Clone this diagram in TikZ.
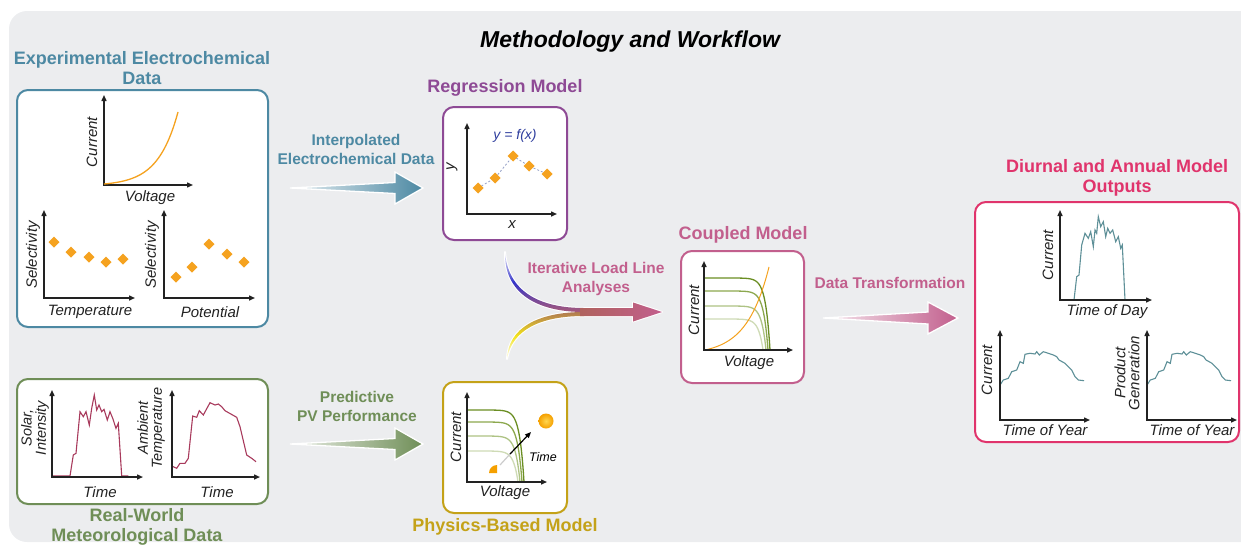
\documentclass[tikz,border=0pt]{standalone}
\usepackage{fontspec}
\setmainfont{Liberation Sans}
\usetikzlibrary{arrows.meta}
\definecolor{bgc}{HTML}{ECEDEF}
\definecolor{expc}{HTML}{4D89A3}
\definecolor{metc}{HTML}{6F8E57}
\definecolor{regc}{HTML}{8E4A95}
\definecolor{phyc}{HTML}{C4A218}
\definecolor{coupc}{HTML}{C25F8D}
\definecolor{outc}{HTML}{E0346C}
\definecolor{axc}{HTML}{222222}
\definecolor{dor}{HTML}{F5A21F}
\definecolor{crim}{HTML}{A83A5C}
\definecolor{tealc}{HTML}{5E9098}
\definecolor{fxc}{HTML}{2F3E9E}
\definecolor{gA}{HTML}{6B8E23}
\definecolor{gB}{HTML}{8CA84E}
\definecolor{gC}{HTML}{AEC384}
\definecolor{gD}{HTML}{CFDBB6}
\definecolor{ublue}{HTML}{3434C8}
\definecolor{upurp}{HTML}{A85A7A}
\definecolor{lyel}{HTML}{F2E21C}
\definecolor{lbrn}{HTML}{B07A52}
\definecolor{shaftc}{HTML}{B0625E}
\definecolor{dashc}{HTML}{96A2C8}
\definecolor{sunin}{HTML}{FFD650}
\definecolor{sunout}{HTML}{F5A000}
\newcommand\dmd[2]{\fill[dor] (#1,#2) +(-5.5,0) -- +(0,-5.5) -- +(5.5,0) -- +(0,5.5) -- cycle;}
% color, x0, y0, xend, ybottom
\newcommand\ivc[5]{\draw[#1, line width=1.3pt] plot[domain=0:{#4-#2}, samples=120, smooth] ({#2+\x},{#3+(#5-#3)*(exp((\x-(#4-#2))/4.5)-exp(-(#4-#2)/4.5))/(1-exp(-(#4-#2)/4.5))});}
\tikzset{
  ttl/.style={font=\bfseries\fontsize{18}{20.5}\selectfont, align=center, inner sep=0},
  lbl/.style={font=\bfseries\fontsize{15.5}{19}\selectfont, align=center, inner sep=0},
  axl/.style={font=\itshape\fontsize{15}{14}\selectfont, text=axc, inner sep=0, align=center},
  axs/.style={line width=1.4pt, draw=axc, {Triangle[length=6pt,width=5pt]}-{Triangle[length=6pt,width=5pt]}},
  box/.style={draw=#1, line width=2pt, fill=white, rounded corners=11pt, inner sep=0},
}
\begin{document}
\begin{tikzpicture}[x=1pt,y=-1pt]
\useasboundingbox (0,0) rectangle (1241,544);
\fill[bgc, rounded corners=18pt] (9,11) rectangle (1300,542);
\node[font=\bfseries\itshape\fontsize{23}{24}\selectfont] (title) at (630,42) {Methodology and Workflow};

% ---------- Experimental box ----------
\node[ttl, text=expc] (expT) at (142,68) {Experimental Electrochemical\\Data};
\node[box=expc, minimum width=251pt, minimum height=237pt] (exp) at (142.5,208.5) {};
\draw[axs] (104,95) -- (104,185) -- (193,185);
\draw[dor, line width=1.3pt] plot[domain=0:74, samples=50] ({104+\x},{184-72*(exp(0.05*\x)-1)/39.45});
\node[axl, rotate=90] (e1y) at (92,142) {Current};
\node[axl] (e1x) at (150,198) {Voltage};
\draw[axs] (44,210) -- (44,298) -- (135,298);
\dmd{54}{242}\dmd{71}{252}\dmd{89}{257}\dmd{106}{262}\dmd{123}{259}
\node[axl, rotate=90] (e2y) at (33,255) {Selectivity};
\node[axl] (e2x) at (90,312) {Temperature};
\draw[axs] (164,210) -- (164,298) -- (255,298);
\dmd{176}{277}\dmd{192}{267}\dmd{209}{244}\dmd{227}{254}\dmd{244}{262}
\node[axl, rotate=90] (e3y) at (152,255) {Selectivity};
\node[axl] (e3x) at (210,312) {Potential};

% ---------- Meteorological box ----------
\node[box=metc, minimum width=251pt, minimum height=125pt] (met) at (142.5,441.5) {};
\node[ttl, text=metc] (metT) at (137,527) {Real-World\\Meteorological Data};
\draw[crim, line width=1.1pt] (52,476) -- (70,476) -- (73.3,455) -- (76,453.3) -- (80,411.7) -- (83.3,416.7) -- (86,411.7) -- (89.3,425) -- (91.7,408.3) -- (94.3,395) -- (96.7,410) -- (99,405) -- (101.7,411.7) -- (104,409.3) -- (107.3,420) -- (110,411.7) -- (112.7,418.3) -- (116,428.3) -- (118.3,423.3) -- (121.7,476) -- (128.3,476);
\draw[crim, line width=1.1pt] (171.7,466) -- (176.7,468.3) -- (180,463.3) -- (185,463.3) -- (188.3,458.3) -- (192.7,416) -- (196.7,417.3) -- (199.3,410.7) -- (203.3,415) -- (210,402.7) -- (215,405) -- (218.3,404) -- (221.7,406.7) -- (225,410.7) -- (236.7,417.3) -- (240,426.7) -- (246.7,455) -- (251.7,458.3) -- (256,461.7);
\draw[axs] (52,390) -- (52,477) -- (143,477);
\draw[axs] (172,390) -- (172,477) -- (260,477);
\node[axl, rotate=90, font=\itshape\fontsize{14.5}{14}\selectfont] (m1y) at (35,428) {Solar,\\Intensity};
\node[axl, rotate=90, font=\itshape\fontsize{14.5}{14}\selectfont] (m2y) at (151,428) {Ambient\\Temperature};
\node[axl] (m1x) at (100,492) {Time};
\node[axl] (m2x) at (217,492) {Time};

% ---------- Regression box ----------
\node[ttl, text=regc] (regT) at (505,88) {Regression Model};
\node[box=regc, minimum width=124pt, minimum height=133pt] (reg) at (505,173.5) {};
\draw[axs] (467,123) -- (467,214) -- (557,214);
\draw[dashc, line width=0.8pt, dash pattern=on 2pt off 2pt] (478,188) -- (495,178) -- (513,156) -- (529,166) -- (547,174);
\dmd{478}{188}\dmd{495}{178}\dmd{513}{156}\dmd{529}{166}\dmd{547}{174}
\node[font=\itshape\fontsize{14}{14}\selectfont, text=fxc] (fx) at (515,136) {y = f(x)};
\node[axl, rotate=90] (ry) at (452,167) {y};
\node[axl] (rx) at (512,225) {x};

% ---------- Physics box ----------
\node[box=phyc, minimum width=124pt, minimum height=131pt] (phy) at (505,447.5) {};
\node[ttl, text=phyc] (phyT) at (505,527) {Physics-Based Model};
\ivc{gD}{467}{451}{518}{482}
\ivc{gC}{467}{436}{520}{482}
\ivc{gB}{467}{422}{522}{482}
\ivc{gA}{467}{410}{524}{482}
\draw[axs] (467,392) -- (467,482) -- (547,482);
\node[axl, rotate=90] (py) at (456,437) {Current};
\node[axl] (px) at (505,493) {Voltage};
\shade[inner color=sunin, outer color=sunout] (546,421) circle[radius=7.5];
\fill[sunout] (497,473) -- (489,473) arc[start angle=180, end angle=270, radius=8] -- cycle;
\draw[line width=1.2pt, draw=white!60!gray] (500,465) -- (511,453);
\draw[line width=1.2pt, -{Triangle[length=6pt,width=5pt]}] (510,454) -- (531,432);
\node[font=\itshape\fontsize{12.5}{12}\selectfont, inner sep=0] (ptime) at (543,457) {Time};

% ---------- Coupled box ----------
\node[ttl, text=coupc] (coupT) at (743,235) {Coupled Model};
\node[box=coupc, minimum width=123pt, minimum height=132pt] (coup) at (742.5,317) {};
\ivc{gD}{704}{319}{763}{350}
\ivc{gC}{704}{306}{766}{350}
\ivc{gB}{704}{291}{768}{350}
\ivc{gA}{704}{278}{770}{350}
\draw[dor, line width=1pt] plot[domain=0:64, samples=50] ({705+\x},{350-83*(exp(0.045*\x)-1)/16.81});
\draw[axs] (704,261) -- (704,350) -- (793,350);
\node[axl, rotate=90] (cy) at (694,310) {Current};
\node[axl] (cx) at (749,363) {Voltage};

% ---------- Output box ----------
\node[ttl, text=outc] (outT) at (1117,178) {Diurnal and Annual Model\\Outputs};
\node[box=outc, minimum width=264pt, minimum height=240pt] (out) at (1107,322) {};
\draw[tealc, line width=1.1pt] (1074,300) -- (1076.7,276.7) -- (1079,275) -- (1081.7,245) -- (1085,233.3) -- (1088.3,238.3) -- (1090.7,231.7) -- (1093.3,246.7) -- (1095,230) -- (1096.7,233.3) -- (1098.3,216.7) -- (1100.7,226.7) -- (1103.3,221.7) -- (1105.7,236.7) -- (1107.7,228.3) -- (1110,233.3) -- (1112.7,230) -- (1115.7,241.7) -- (1118.3,236.7) -- (1120.7,248.3) -- (1122.3,245) -- (1125,300);
\draw[axs] (1060,210) -- (1060,300) -- (1152,300);
\node[axl, rotate=90] (o1y) at (1048,255) {Current};
\node[axl] (o1x) at (1107,312) {Time of Day};
\foreach \s in {0,147}{
\begin{scope}[xshift=\s pt]
\draw[tealc, line width=1.1pt] (1000,385) -- (1003.3,380) -- (1008.3,378.3) -- (1011.7,371.7) -- (1016.7,370) -- (1020,361.7) -- (1023.3,363.3) -- (1025,354.3) -- (1030,353.3) -- (1035,354) -- (1036.7,351.7) -- (1039.3,355) -- (1043.3,351.7) -- (1048.3,353.3) -- (1053.3,355) -- (1056.7,356.7) -- (1059,360) -- (1065,363.3) -- (1068.3,366.7) -- (1071.7,370) -- (1075,376.7) -- (1078.3,380) -- (1084,380.7);
\draw[axs] (1000,330) -- (1000,420) -- (1090,420);
\end{scope}}
\node[axl, rotate=90] (o2y) at (987,370) {Current};
\node[axl] (o2x) at (1045,430) {Time of Year};
\node[axl, rotate=90] (o3y) at (1127,373) {Product\\Generation};
\node[axl] (o3x) at (1192,430) {Time of Year};

% ---------- Arrows ----------
\node[lbl, text=expc] (iL) at (356,149) {Interpolated\\Electrochemical Data};
\path[draw=white, line width=1.3pt, left color=white!85!expc, right color=expc]
  (290,188) -- (395,182.5) -- (395,172) -- (423,188) -- (395,204) -- (395,193.5) -- cycle;
\node[lbl, text=metc] (pL) at (357,406) {Predictive\\PV Performance};
\path[draw=white, line width=1.3pt, left color=white!85!metc, right color=metc]
  (290,444) -- (395,438.5) -- (395,428) -- (423,444) -- (395,460) -- (395,449.5) -- cycle;
\node[lbl, text=coupc] (dL) at (890,283) {Data Transformation};
\path[draw=white, line width=1.3pt, left color=white!85!coupc, right color=coupc]
  (823,318) -- (928,312) -- (928,302) -- (958,318) -- (928,334) -- (928,324) -- cycle;
\node[lbl, text=coupc] (lL) at (596,278.5) {Iterative Load Line\\Analyses};
% curved merging arrow
\begin{scope}
\draw[white, line width=2pt, line join=round] (505,252) .. controls (508,292) and (540,308) .. (584,308) -- (584,312) .. controls (538,312) and (504,294) .. (505,252) -- cycle;
\draw[white, line width=2pt, line join=round] (507,359) .. controls (512,330) and (540,316) .. (584,316) -- (584,312) .. controls (538,312) and (508,328) .. (507,359) -- cycle;
\draw[white, line width=2pt, line join=round] (580,308) -- (633,308) -- (633,302.5) -- (662,312) -- (633,321.5) -- (633,316) -- (580,316) -- cycle;
\shade[top color=white, bottom color=upurp, middle color=ublue] (505,252) .. controls (508,292) and (540,308) .. (584,308) -- (584,312) .. controls (538,312) and (504,294) .. (505,252) -- cycle;
\shade[bottom color=white, top color=lbrn, middle color=lyel] (507,359) .. controls (512,330) and (540,316) .. (584,316) -- (584,312) .. controls (538,312) and (508,328) .. (507,359) -- cycle;
\shade[left color=shaftc, right color=coupc] (580,308) -- (633,308) -- (633,302.5) -- (662,312) -- (633,321.5) -- (633,316) -- (580,316) -- cycle;
\end{scope}
\end{tikzpicture}
\end{document}
